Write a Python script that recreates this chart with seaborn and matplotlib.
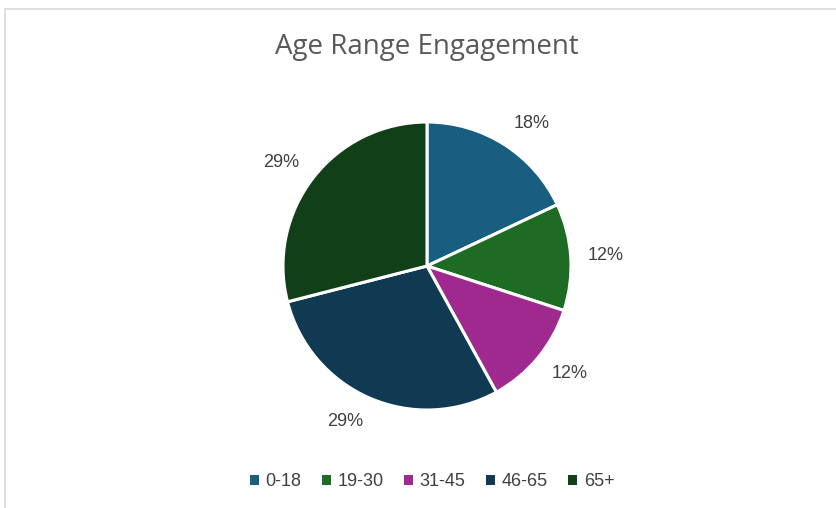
import matplotlib
matplotlib.use("Agg")
import matplotlib.pyplot as plt
from matplotlib.patches import Patch, Rectangle
import numpy as np
import seaborn as sns

# Engagement share by age range
age_ranges = ["0-18", "19-30", "31-45", "46-65", "65+"]
shares = [18, 12, 12, 29, 29]
pct_labels = ["18%", "12%", "12%", "29%", "29%"]
colors = ["#175e80", "#1e6b23", "#a0298f", "#0f3a52", "#113f17"]

sns.set_theme(style="white")
plt.rcParams["font.family"] = ["Open Sans", "DejaVu Sans"]
label_font = ["Liberation Sans", "DejaVu Sans"]

W, H = 837, 508
fig = plt.figure(figsize=(W / 100, H / 100), dpi=100)
fig.patch.set_facecolor("white")

# light chart-area frame
fig.patches.append(Rectangle((5 / W, -0.1), 1.2, (H - 9) / H + 0.1,
                             transform=fig.transFigure, fill=False,
                             edgecolor="#d9d9d9", linewidth=1.2))

cx, cy, r = 427, H - 266, 144
ax = fig.add_axes([(cx - r) / W, (cy - r) / H, 2 * r / W, 2 * r / H])
wedges, texts = ax.pie(
    shares, colors=colors, startangle=90, counterclock=False,
    labels=pct_labels, labeldistance=1.12,
    wedgeprops=dict(edgecolor="white", linewidth=2.2),
    textprops=dict(color="#404040", fontsize=13, family=label_font),
)
# outside-end labels: push each label clear of the slice edge
for w, t in zip(wedges, texts):
    mid = np.deg2rad((w.theta1 + w.theta2) / 2)
    c, s = np.cos(mid), np.sin(mid)
    t.set_position((1.12 * c, 1.175 * s))
    t.set_ha("left" if c >= 0 else "right")
    t.set_va("center")
ax.set_xlim(-1, 1)
ax.set_ylim(-1, 1)
ax.set_aspect("equal")
ax.axis("off")

fig.text(427 / W, 1 - 47 / H, "Age Range Engagement", ha="center", va="center",
         fontsize=20, color="#595959")

handles = [Patch(facecolor=c, edgecolor="none", label=l) for c, l in zip(colors, age_ranges)]
fig.legend(handles=handles, loc="center", bbox_to_anchor=(432 / W, 1 - 482 / H),
           ncol=5, frameon=False, handlelength=0.5, handleheight=0.5,
           handletextpad=0.35, columnspacing=1.15,
           prop=dict(family=label_font, size=13),
           labelcolor="#404040")

fig.savefig("out.png", dpi=100, facecolor="white")
